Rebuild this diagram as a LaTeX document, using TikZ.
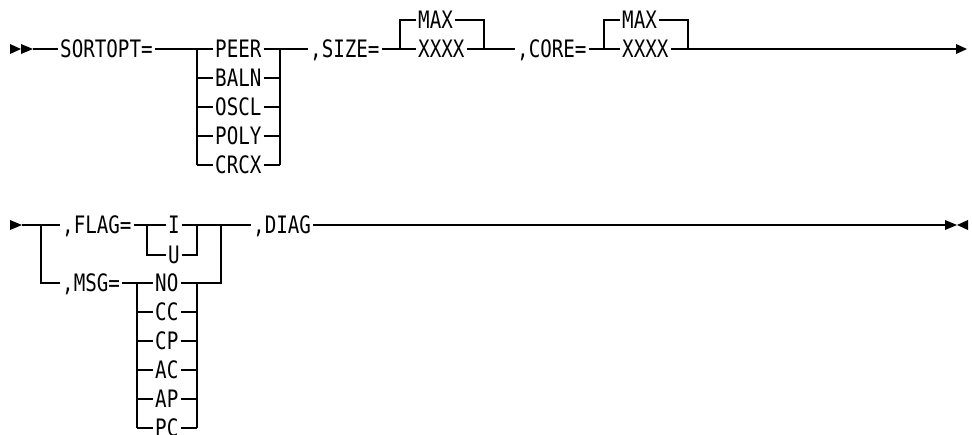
\documentclass[tikz,border=0pt]{standalone}
\usepackage{fontspec}
\newfontfamily\railfont[FakeStretch=0.8]{DejaVu Sans Mono}

\begin{document}
\begin{tikzpicture}[x=1pt, y=-1pt, line width=1.4pt,
  kw/.style={font=\railfont\fontsize{24}{24}\selectfont, anchor=west, inner xsep=1.5pt, inner ysep=0pt, text height=17pt, text depth=0pt}
]
\useasboundingbox (0,0) rectangle (972,434);

% first line
\fill (10,44) -- (21,49) -- (10,54) -- cycle;
\fill (21,44) -- (33,49) -- (21,54) -- cycle;
\coordinate (in1) at (33,49);
\node[kw] (sortopt) at (58,49) {SORTOPT=};
\draw (in1) -- (sortopt.west);

% SORTOPT choices
\coordinate (sL) at (197,49);
\coordinate (sR) at (280,49);
\foreach \w [count=\i from 0] in {PEER,BALN,OSCL,POLY,CRCX}
  \node[kw] (sort\i) at (213,49+29*\i) {\w};
\foreach \i in {0,...,4}
  \draw (sL |- sort\i) -- (sort\i.west) (sort\i.east) -- (sR |- sort\i);
\draw (sortopt.east) -- (sL) -- (sL |- sort4);
\draw (sR |- sort4) -- (sR);

% SIZE
\node[kw] (size) at (308,49) {,SIZE=};
\draw (sR) -- (size.west);
\coordinate (zL) at (400,49);
\coordinate (zR) at (484,49);
\node[kw] (sizemax) at (416,20) {MAX};
\node[kw] (sizexx) at (416,49) {XXXX};
\node[kw] (core) at (515,49) {,CORE=};
\draw (size.east) -- (sizexx.west) (sizexx.east) -- (zR) -- (core.west);
\draw (zL) -- (zL |- sizemax) -- (sizemax.west) (sizemax.east) -- (zR |- sizemax) -- (zR);

% CORE
\coordinate (cL) at (604,49);
\coordinate (cR) at (688,49);
\node[kw] (coremax) at (620,20) {MAX};
\node[kw] (corexx) at (620,49) {XXXX};
\coordinate (out1) at (956,49);
\draw (core.east) -- (corexx.west) (corexx.east) -- (cR) -- (out1);
\draw (cL) -- (cL |- coremax) -- (coremax.west) (coremax.east) -- (cR |- coremax) -- (cR);
\fill (956,44) -- (967,49) -- (956,54) -- cycle;

% second line
\fill (10,220) -- (22,225) -- (10,230) -- cycle;
\coordinate (in2) at (22,225);
\coordinate (bL) at (41,225);
\coordinate (bR) at (221,225);
\node[kw] (flag) at (60,225) {,FLAG=};
\node[kw] (msg) at (60,283) {,MSG=};
\draw (in2) -- (flag.west);
\draw (bL) -- (bL |- msg) -- (msg.west);

% FLAG choices
\coordinate (fL) at (147,225);
\coordinate (fR) at (197,225);
\node[kw] (flagi) at (166,225) {I};
\node[kw] (flagu) at (166,255) {U};
\node[kw] (diag) at (251,225) {,DIAG};
\draw (flag.east) -- (flagi.west) (flagi.east) -- (fR) -- (bR) -- (diag.west);
\draw (fL) -- (fL |- flagu) -- (flagu.west) (flagu.east) -- (fR |- flagu) -- (fR);

% MSG choices
\coordinate (mL) at (137,283);
\coordinate (mR) at (197,283);
\foreach \w [count=\i from 0] in {NO,CC,CP,AC,AP,PC}
  \node[kw] (msg\i) at (153,283+29*\i) {\w};
\foreach \i in {0,...,5}
  \draw (mL |- msg\i) -- (msg\i.west) (msg\i.east) -- (mR |- msg\i);
\draw (msg.east) -- (mL) -- (mL |- msg5);
\draw (mR |- msg5) -- (mR) -- (bR |- mR) -- (bR);

% end of statement
\coordinate (out2) at (945,225);
\draw (diag.east) -- (out2);
\fill (945,220) -- (957,225) -- (945,230) -- cycle;
\fill (968,220) -- (957,225) -- (968,230) -- cycle;
\end{tikzpicture}
\end{document}
